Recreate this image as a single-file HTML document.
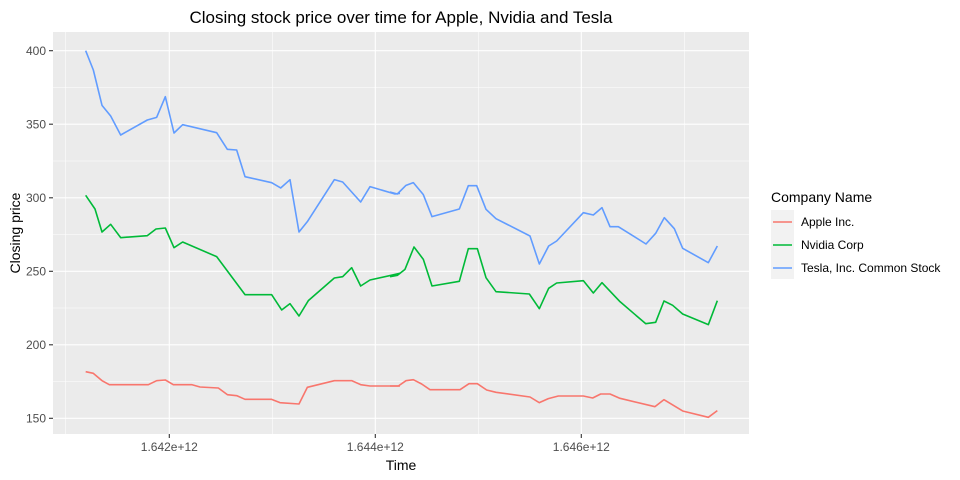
<!DOCTYPE html>
<html><head><style>body{margin:0;background:#fff}svg{display:block}</style></head><body>
<svg width="960" height="480" xmlns="http://www.w3.org/2000/svg" font-family="Liberation Sans, Arial, sans-serif">
<rect x="53" y="32" width="696" height="402" fill="#ebebeb"/>
<g stroke="#fff" stroke-width="0.55">
<line x1="53" x2="749" y1="87.5" y2="87.5"/><line x1="53" x2="749" y1="161" y2="161"/><line x1="53" x2="749" y1="234.5" y2="234.5"/><line x1="53" x2="749" y1="308" y2="308"/><line x1="53" x2="749" y1="381.5" y2="381.5"/>
<line y1="32" y2="434" x1="65.7" x2="65.7"/><line y1="32" y2="434" x1="272.3" x2="272.3"/><line y1="32" y2="434" x1="478.3" x2="478.3"/><line y1="32" y2="434" x1="684.3" x2="684.3"/>
</g>
<g stroke="#fff" stroke-width="1.1">
<line x1="53" x2="749" y1="50.7" y2="50.7"/><line x1="53" x2="749" y1="124.2" y2="124.2"/><line x1="53" x2="749" y1="197.8" y2="197.8"/><line x1="53" x2="749" y1="271.3" y2="271.3"/><line x1="53" x2="749" y1="344.8" y2="344.8"/><line x1="53" x2="749" y1="418.3" y2="418.3"/>
<line y1="32" y2="434" x1="169.3" x2="169.3"/><line y1="32" y2="434" x1="375.3" x2="375.3"/><line y1="32" y2="434" x1="581.3" x2="581.3"/>
</g>
<g stroke="#333" stroke-width="1.1">
<line x1="49" x2="53" y1="50.7" y2="50.7"/><line x1="49" x2="53" y1="124.2" y2="124.2"/><line x1="49" x2="53" y1="197.8" y2="197.8"/><line x1="49" x2="53" y1="271.3" y2="271.3"/><line x1="49" x2="53" y1="344.8" y2="344.8"/><line x1="49" x2="53" y1="418.3" y2="418.3"/>
<line y1="434" y2="438" x1="169.3" x2="169.3"/><line y1="434" y2="438" x1="375.3" x2="375.3"/><line y1="434" y2="438" x1="581.3" x2="581.3"/>
</g>
<g font-size="12" fill="#4d4d4d" text-anchor="end">
<text x="46" y="55">400</text><text x="46" y="128.5">350</text><text x="46" y="202">300</text><text x="46" y="275.5">250</text><text x="46" y="349">200</text><text x="46" y="422.5">150</text>
</g>
<g font-size="12" fill="#4d4d4d" text-anchor="middle">
<text x="169.3" y="451">1.642e+12</text><text x="375.3" y="451">1.644e+12</text><text x="581.3" y="451">1.646e+12</text>
</g>
<text x="401" y="23" font-size="17" text-anchor="middle" fill="#000">Closing stock price over time for Apple, Nvidia and Tesla</text>
<text x="401" y="470" font-size="14" text-anchor="middle">Time</text>
<text transform="translate(20,233) rotate(-90)" font-size="14" text-anchor="middle">Closing price</text>
<g fill="none" stroke-width="1.6" stroke-linejoin="round">
<g transform="translate(40,30) scale(0.33333)">
<polyline vector-effect="non-scaling-stroke" stroke="#619cff" points="137,62 160,120 186,226 212,258 242,315 322,270 350,262 376,200 402,309 428,284 530,308 562,358 590,360 615,440 695,458 722,474 750,449 777,606 802,575 883,449 908,456 962,516 990,470 1065,492 1080,490"/>
<polyline vector-effect="non-scaling-stroke" stroke="#00ba38" points="137,496 165,537 186,606 212,583 242,623 322,617 348,597 376,594 402,653 428,636 530,680 615,794 695,794 725,840 750,821 777,858 805,812 883,744 908,740 935,713 962,768 990,750 1080,730"/>
<polyline vector-effect="non-scaling-stroke" stroke="#f8766d" points="137,1025 160,1030 186,1052 208,1064 325,1064 350,1052 376,1050 400,1064 455,1064 480,1071 535,1074 562,1094 590,1097 615,1108 695,1108 720,1118 777,1122 802,1072 883,1052 935,1052 962,1064 990,1068 1080,1068"/>
</g>
<g transform="translate(390,30) scale(0.33333)">
<polyline vector-effect="non-scaling-stroke" stroke="#619cff" points="0,486 22,492 48,466 70,458 100,494 126,560 208,537 235,467 260,467 288,538 318,566 420,618 448,702 476,648 500,633 580,548 610,555 636,533 660,590 685,590 768,642 797,610 823,563 853,596 878,655 955,698 982,648"/>
<polyline vector-effect="non-scaling-stroke" stroke="#00ba38" points="0,740 22,736 45,718 72,651 100,688 126,768 208,754 235,656 262,656 288,743 318,785 418,792 448,836 476,775 500,759 580,752 610,789 636,758 690,815 767,881 797,877 822,813 848,826 878,852 955,884 982,812"/>
<polyline vector-effect="non-scaling-stroke" stroke="#f8766d" points="0,1068 25,1068 48,1052 70,1049 95,1062 120,1079 210,1079 237,1061 262,1061 290,1080 318,1087 420,1101 448,1118 475,1106 505,1098 580,1098 608,1104 632,1092 660,1092 690,1105 795,1130 822,1109 878,1143 955,1162 982,1142"/>
</g>
</g>
<text x="771" y="202" font-size="14">Company Name</text>
<rect x="771" y="210" width="23" height="69" fill="#f2f2f2"/>
<g stroke-width="1.6"><line x1="773" x2="792" y1="222" y2="222" stroke="#f8766d"/><line x1="773" x2="792" y1="245" y2="245" stroke="#00ba38"/><line x1="773" x2="792" y1="268" y2="268" stroke="#619cff"/></g>
<g font-size="12"><text x="801" y="226">Apple Inc.</text><text x="801" y="249">Nvidia Corp</text><text x="801" y="272">Tesla, Inc. Common Stock</text></g>
</svg>
</body></html>
